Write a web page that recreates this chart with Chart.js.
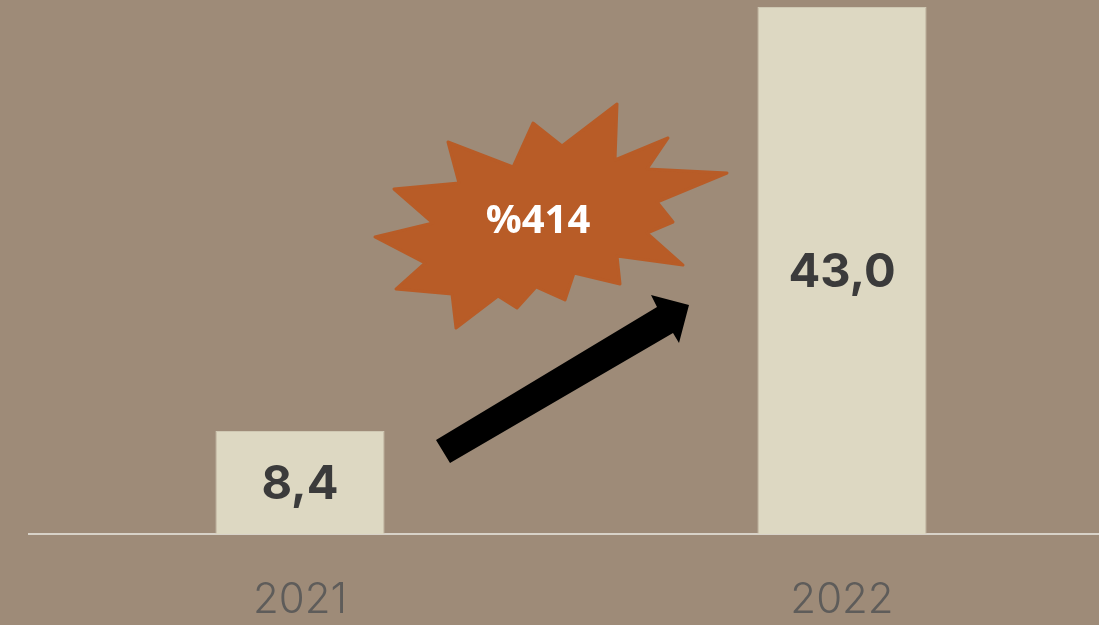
<!DOCTYPE html>
<html>
<head>
<meta charset="utf-8">
<script src="https://cdn.jsdelivr.net/npm/chart.js@4/dist/chart.umd.min.js"></script>
<style>
html,body{margin:0;padding:0;background:#9E8B78;overflow:hidden;}
#wrap{position:relative;width:1099px;height:625px;overflow:hidden;}
</style>
</head>
<body>
<div id="wrap"><canvas id="c" width="1113" height="672"></canvas></div>
<script>
const categories = ["2021", "2022"];
const values = [8.4, 43.0];
const growthLabel = "%414";

const valueLabels = {
  id: 'valueLabels',
  afterDatasetsDraw(chart) {
    const ctx = chart.ctx;
    const meta = chart.getDatasetMeta(0);
    ctx.save();
    ctx.fillStyle = '#3b3b3b';
    ctx.font = '700 47px Inter, sans-serif';
    ctx.textAlign = 'center';
    ctx.textBaseline = 'middle';
    meta.data.forEach((bar, i) => {
      const txt = values[i].toFixed(1).replace('.', ',');
      ctx.fillText(txt, bar.x, (bar.y + bar.base) / 2 + 2);
    });
    ctx.restore();
  }
};

const decorations = {
  id: 'decorations',
  afterDraw(chart) {
    const ctx = chart.ctx;
    ctx.save();
    const star = [[617,104],[615,160],[668,138],[647,169],[727,173],[657,202],[673,222],[647,233],[683,265],[617,256],[620,284],[574,273],[565,300],[536,287],[517,308],[498,296],[456,328],[452,294],[396,289],[425,263],[375,237],[433,223],[394,189],[459,183],[448,142],[513,167],[533,123],[562,146]];
    ctx.beginPath();
    star.forEach((p, i) => i ? ctx.lineTo(p[0], p[1]) : ctx.moveTo(p[0], p[1]));
    ctx.closePath();
    ctx.fillStyle = '#B85C27';
    ctx.strokeStyle = '#B85C27';
    ctx.lineJoin = 'round';
    ctx.lineWidth = 3;
    ctx.fill();
    ctx.stroke();
    ctx.fillStyle = '#ffffff';
    ctx.font = '700 40px "Open Sans", sans-serif';
    ctx.textAlign = 'center';
    ctx.textBaseline = 'middle';
    ctx.fillText(growthLabel, 538, 222);
    const arrow = [[436,440],[657,307],[651,295],[689,305],[679,343],[673,333],[450,463]];
    ctx.beginPath();
    arrow.forEach((p, i) => i ? ctx.lineTo(p[0], p[1]) : ctx.moveTo(p[0], p[1]));
    ctx.closePath();
    ctx.fillStyle = '#000000';
    ctx.fill();
    ctx.restore();
  }
};

new Chart(document.getElementById('c'), {
  type: 'bar',
  data: {
    labels: categories,
    datasets: [{
      data: values,
      backgroundColor: '#DDD8C2',
      borderColor: '#CFC8B3',
      borderWidth: 1,
      barPercentage: 0.312,
      categoryPercentage: 1.0
    }]
  },
  options: {
    responsive: false,
    animation: false,
    devicePixelRatio: 1,
    layout: { padding: { top: 7, left: 29, right: 0, bottom: 6 } },
    plugins: { legend: { display: false }, tooltip: { enabled: false } },
    scales: {
      x: {
        grid: { display: false, drawTicks: false },
        border: { display: true, color: '#D8D2C8', width: 2 },
        ticks: { color: '#5E5C5A', font: { family: 'Inter', size: 42, weight: 300, lineHeight: 1.0 }, padding: 45 }
      },
      y: {
        display: false,
        min: 0,
        max: 43,
        grid: { display: false }
      }
    }
  },
  plugins: [valueLabels, decorations]
});
</script>
</body>
</html>
